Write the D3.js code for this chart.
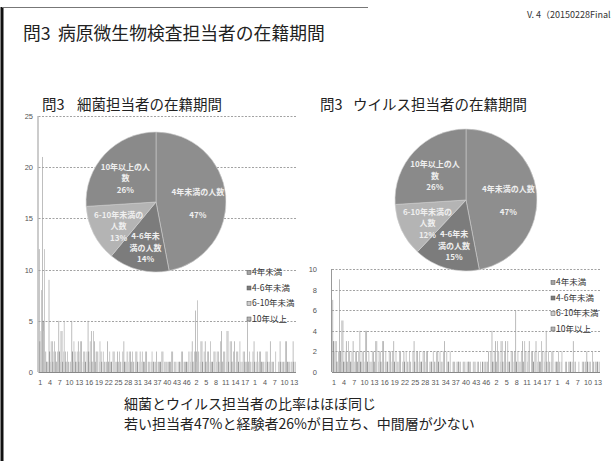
<!DOCTYPE html>
<html>
<head>
<meta charset="utf-8">
<script src="https://cdn.jsdelivr.net/npm/d3@7"></script>
<style>
  html, body { margin: 0; padding: 0; background: #fff; }
  svg { display: block; font-family: "Noto Sans CJK JP", "Noto Sans", sans-serif; }
</style>
</head>
<body>
<svg id="slide" width="612" height="461"></svg>
<script>
// ---- categories: prefectures, cities, other institutes ----
const prefectureNos = [1,2,3,4,5,6,7,8,9,10,11,12,13,14,15,16,17,18,19,20,21,22,23,24,25,26,27,28,29,30,31,32,33,34,35,36,37,38,39,40,41,42,43,44,45,46,47];
const cityNos = [1,2,3,4,5,6,7,8,9,10,11,12,13,14,15,16,17,18,19];
const otherNos = [1,2,3,4,5,6,7,8,9,10,11,12,13];

const seriesNames = ["4年未満", "4-6年未満", "6-10年未満", "10年以上"];

// ---- bacteria staff counts per institute ----
const bacteriaUnder4 = [12,21,2,9,3,2,5,4,2,1, 5,2,3,3,2,5,4,3,2,2, 1,3,1,2,2,1,3,2,2,1, 2,2,1,2,1,1,2,1,2,1, 1,2,1,1,2,1,2,
  3,6,2,3,3,2,1,2,2,4, 2,4,3,3,2,1,2,5,1,3, 2,2,1,2,3,1,0,3,1,3,1,3];
const bacteria4to6 = [3,5,1,2,1,1,2,1,1,0, 2,1,1,0,1,2,1,1,0,1, 0,1,1,0,1,0,1,0,1,0, 1,0,1,0,0,1,0,1,0,0, 1,0,0,1,0,1,0,
  1,2,0,1,1,0,1,0,1,1, 0,1,1,0,1,0,1,1,0,1, 0,1,0,1,0,0,0,1,0,1,0,1];
const bacteria6to10 = [4,4,1,1,2,1,1,2,1,1, 1,1,2,1,0,1,1,2,1,0, 1,1,0,1,0,1,1,1,0,1, 0,1,0,1,1,0,1,0,1,1, 0,1,0,0,1,0,1,
  1,1,1,0,1,1,0,1,0,1, 1,0,1,1,0,1,0,1,1,0, 1,0,1,0,1,0,1,0,1,0,1,0];
const bacteriaOver10 = [8,12,1,3,3,2,4,5,2,1, 3,2,3,2,2,3,4,2,3,2, 1,2,2,1,2,2,1,2,2,2, 1,2,2,1,2,1,1,2,1,1, 2,1,1,2,1,1,2,
  2,7,3,2,2,3,2,2,3,2, 4,3,2,2,3,2,1,2,2,1, 2,1,2,1,1,2,1,1,3,1,1,1];

// ---- virus staff counts per institute ----
const virusUnder4 = [7,3,9,5,3,2,3,2,4,2, 4,1,2,3,2,3,1,2,3,1, 2,2,1,1,3,2,1,2,2,1, 1,2,1,3,1,0,1,1,0,1, 1,0,1,1,0,1,2,
  4,3,2,3,3,1,2,6,1,3, 2,3,2,3,1,2,4,1,2,1, 1,0,1,1,3,0,0,1,2,1,1,1];
const virus4to6 = [3,1,2,1,1,1,0,1,1,0, 1,0,1,0,1,0,1,0,1,0, 0,1,0,0,1,0,1,0,0,1, 0,1,0,0,1,0,0,1,0,0, 1,0,0,0,1,0,0,
  1,1,0,1,0,1,0,1,0,1, 0,0,1,0,1,0,1,0,0,1, 0,0,0,1,0,0,0,0,1,0,0,1];
const virus6to10 = [2,1,1,1,0,1,1,0,1,1, 0,1,0,1,0,1,0,1,0,1, 0,0,1,0,0,1,0,1,0,0, 1,0,1,0,0,1,0,0,1,0, 0,1,0,0,0,1,0,
  1,0,1,0,1,0,1,0,1,0, 1,0,0,1,0,1,0,1,0,0, 1,0,0,0,1,0,0,1,0,0,1,0];
const virusOver10 = [3,2,5,2,3,2,2,2,2,4, 2,2,3,2,3,2,2,2,2,2, 1,2,2,2,2,2,2,2,1,2, 2,2,2,2,2,1,1,1,1,1, 1,1,1,1,1,1,2,
  2,3,3,2,3,2,2,2,2,3, 2,2,2,2,3,2,2,2,1,2, 2,1,1,1,1,1,1,1,1,2,1,1];

// ---- pie shares (%) ----
const pieSliceNames = ["4年未満の人数", "4-6年未満の人数", "6-10年未満の人数", "10年以上の人数"];
const bacteriaShare = [47, 14, 13, 26];
const virusShare = [47, 15, 12, 26];
const pieLabelLines = [["4年未満の人数", ""], ["4-6年未", "満の人数"], ["6-10年未満の", "人数"], ["10年以上の人", "数"]];

// ---- axis ticks ----
const bacteriaYTicks = [0, 5, 10, 15, 20, 25];
const virusYTicks = [0, 2, 4, 6, 8, 10];

// ---------------------------------------------------------------
const svg = d3.select("#slide");
const categories = [...prefectureNos, ...cityNos, ...otherNos];
const catKeys = categories.map((c, i) => i);

const barColors = ["#a4a4a4", "#7c7c7c", "#cdcdcd", "#b4b4b4"];
const sliceColors = ["#8e8e8e", "#7c7c7c", "#b4b4b4", "#8a8a8a"];

// slide frame
svg.append("line").attr("x1", 2).attr("x2", 2).attr("y1", 7).attr("y2", 461)
  .attr("stroke", "#111").attr("stroke-width", 3);
svg.append("line").attr("x1", 2).attr("x2", 368).attr("y1", 7.5).attr("y2", 7.5)
  .attr("stroke", "#777").attr("stroke-width", 1);

// slide heading
const head = svg.append("text").attr("y", 40).attr("font-size", 17.8).attr("fill", "#222");
head.append("tspan").attr("x", 23).text("問3");
head.append("tspan").attr("x", 58).text("病原微生物検査担当者の在籍期間");
svg.append("text").attr("x", 527).attr("y", 18)
  .attr("font-size", 9).attr("fill", "#333")
  .text("V. 4（20150228Final");

function drawChart(cfg) {
  const g = svg.append("g");
  const x = d3.scaleBand().domain(catKeys).range([cfg.x0, cfg.x1]).padding(0.12);
  const xs = d3.scaleBand().domain(d3.range(cfg.series.length)).range([0, x.bandwidth()]);
  const y = d3.scaleLinear().domain([0, cfg.yMax]).range([cfg.yBottom, cfg.yTop]);

  // horizontal gridlines
  g.append("g").selectAll("line")
    .data(cfg.yTicks.filter(t => t > 0))
    .join("line")
    .attr("x1", cfg.x0).attr("x2", cfg.x1)
    .attr("y1", d => Math.round(y(d)) + 0.5).attr("y2", d => Math.round(y(d)) + 0.5)
    .attr("stroke", "#8a8a8a").attr("stroke-width", 0.8).attr("stroke-dasharray", "2,1.5");

  // y axis labels
  const yAxis = d3.axisLeft(y).tickValues(cfg.yTicks).tickSize(0).tickPadding(0);
  const ya = g.append("g").attr("transform", `translate(${cfg.yLabelX},0)`).call(yAxis);
  ya.select(".domain").remove();
  ya.selectAll("text").attr("font-size", 7.5).attr("fill", "#555")
    .attr("font-family", "'Liberation Sans', sans-serif");

  // clustered bars
  const rows = catKeys.map(i => cfg.series.map(s => s[i]));
  const cg = g.append("g").selectAll("g").data(rows).join("g")
    .attr("transform", (d, i) => `translate(${x(i)},0)`);
  cg.selectAll("rect").data(d => d.map((v, k) => ({ v, k }))).join("rect")
    .attr("x", d => xs(d.k))
    .attr("width", xs.bandwidth())
    .attr("y", d => y(d.v))
    .attr("height", d => cfg.yBottom - y(d.v))
    .attr("fill", d => barColors[d.k]);

  // axis lines
  g.append("line").attr("x1", cfg.x0 - 0.5).attr("x2", cfg.x0 - 0.5)
    .attr("y1", cfg.yTop).attr("y2", cfg.yBottom)
    .attr("stroke", "#999").attr("stroke-width", 1);
  g.append("line").attr("x1", cfg.x0).attr("x2", cfg.x1)
    .attr("y1", cfg.yBottom + 0.5).attr("y2", cfg.yBottom + 0.5)
    .attr("stroke", "#888").attr("stroke-width", 1);

  // x axis labels, every third category
  const xAxis = d3.axisBottom(x).tickSize(0).tickPadding(0)
    .tickValues(catKeys.filter(i => i % 3 === 0))
    .tickFormat(i => categories[i]);
  const xa = g.append("g").attr("transform", `translate(0,${cfg.yBottom + 8})`).call(xAxis);
  xa.select(".domain").remove();
  xa.selectAll("text").attr("font-size", 7.2).attr("fill", "#555")
    .attr("font-family", "'Liberation Sans', sans-serif");

  // chart title
  const tt = g.append("text").attr("y", cfg.titleY).attr("font-size", 14.5).attr("fill", "#222");
  tt.append("tspan").attr("x", cfg.titleX).text(cfg.title[0]);
  tt.append("tspan").attr("x", cfg.titleX2).text(cfg.title[1]);

  // legend
  const lg = g.append("g").selectAll("g").data(seriesNames).join("g")
    .attr("transform", (d, i) => `translate(${cfg.legendX},${cfg.legendY + i * cfg.legendStep})`);
  lg.append("rect").attr("x", 0).attr("y", -4.5).attr("width", 4).attr("height", 4)
    .attr("fill", (d, i) => barColors[i]).attr("stroke", "#555").attr("stroke-width", 0.5);
  lg.append("text").attr("x", 5).attr("y", 0).attr("font-size", 8.5).attr("fill", "#333").text(d => d);

  // pie overlay
  const pie = d3.pie().sort(null).value(d => d.v);
  const slices = pie(cfg.share.map((v, k) => ({ v, k })));
  const arc = d3.arc().innerRadius(0).outerRadius(cfg.r);
  const labelArc = d3.arc().innerRadius(cfg.r * 0.6).outerRadius(cfg.r * 0.6);
  const pg = g.append("g").attr("transform", `translate(${cfg.cx},${cfg.cy})`);
  pg.selectAll("path").data(slices).join("path")
    .attr("d", arc).attr("fill", d => sliceColors[d.data.k])
    .attr("stroke", "#cfcfcf").attr("stroke-width", 0.6);
  const lab = pg.selectAll("text.lbl").data(slices).join("text").attr("class", "lbl")
    .attr("text-anchor", "middle").attr("font-size", 8).attr("font-weight", 600)
    .attr("fill", "#efefef")
    .attr("transform", d => { const c = labelArc.centroid(d); return `translate(${c[0]},${c[1]})`; });
  lab.each(function (d) {
    const lines = [...pieLabelLines[d.data.k], d.data.v + "%"];
    const t = d3.select(this);
    const step = 11.5;
    const start = -((lines.length - 1) * step) / 2 + 8;
    lines.forEach((ln, j) => {
      t.append("tspan").attr("x", 0).attr("y", start + j * step).text(ln);
    });
  });
}

drawChart({
  title: ["問3", "細菌担当者の在籍期間"], titleX: 42, titleX2: 77, titleY: 110,
  x0: 38.5, x1: 296, yTop: 116, yBottom: 372, yMax: 25,
  yTicks: bacteriaYTicks, yLabelX: 33,
  series: [bacteriaUnder4, bacteria4to6, bacteria6to10, bacteriaOver10],
  legendX: 247, legendY: 275, legendStep: 15.5,
  share: bacteriaShare, cx: 156, cy: 202, r: 70
});

drawChart({
  title: ["問3", "ウイルス担当者の在籍期間"], titleX: 320, titleX2: 353, titleY: 110,
  x0: 332, x1: 600, yTop: 269, yBottom: 372, yMax: 10,
  yTicks: virusYTicks, yLabelX: 317,
  series: [virusUnder4, virus4to6, virus6to10, virusOver10],
  legendX: 551, legendY: 285, legendStep: 15.5,
  share: virusShare, cx: 466, cy: 200, r: 71
});

// closing remarks
svg.append("text").attr("x", 124).attr("y", 409).attr("font-size", 14).attr("fill", "#222")
  .text("細菌とウイルス担当者の比率はほぼ同じ");
svg.append("text").attr("x", 124).attr("y", 429).attr("font-size", 14).attr("fill", "#222")
  .text("若い担当者47%と経験者26%が目立ち、中間層が少ない");
</script>
</body>
</html>
